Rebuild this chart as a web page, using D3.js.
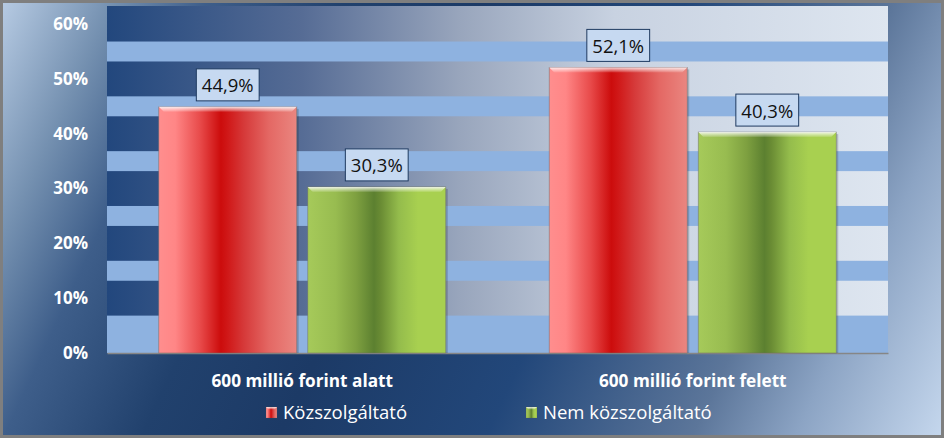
<!DOCTYPE html>
<html>
<head>
<meta charset="utf-8">
<script src="https://cdn.jsdelivr.net/npm/d3@7"></script>
<style>
  body { margin: 0; background: #fff; }
  svg { display: block; }
</style>
</head>
<body>
<script>
// chart data
var categories = ["600 millió forint alatt", "600 millió forint felett"];
var series = ["Közszolgáltató", "Nem közszolgáltató"];
var kozszolgaltato = [44.9, 52.1];
var nemKozszolgaltato = [30.3, 40.3];
var yTicks = [0, 10, 20, 30, 40, 50, 60];
var stripeValues = [5, 15, 25, 35, 45, 55];

var W = 944, H = 438;
var plot = {left: 107, right: 888, top: 6, bottom: 353};

var svg = d3.select("body").append("svg")
    .attr("width", W)
    .attr("height", H);

var defs = svg.append("defs");

// outer background gradient (light - dark - light along the diagonal)
var bg = defs.append("linearGradient")
    .attr("id", "bgGrad")
    .attr("gradientUnits", "userSpaceOnUse")
    .attr("x1", 0).attr("y1", 0).attr("x2", W).attr("y2", H);
[[0, "#b8cce4"], [0.1, "#7490b0"], [0.18, "#3e5e8a"], [0.3, "#21416d"],
 [0.42, "#1c3a66"], [0.6, "#22477a"], [0.78, "#5c769a"], [0.87, "#8ca4c4"], [1, "#c6d8ee"]]
  .forEach(function(s) {
    bg.append("stop").attr("offset", s[0]).attr("stop-color", s[1]);
  });

// plot area gradient
var pg = defs.append("linearGradient")
    .attr("id", "plotGrad")
    .attr("x1", 0).attr("y1", 0).attr("x2", 1).attr("y2", 0);
[[0, "#22477d"], [0.25, "#566c95"], [0.45, "#98a5bc"], [0.65, "#c8d2e1"], [1, "#dee6f0"]]
  .forEach(function(s) {
    pg.append("stop").attr("offset", s[0]).attr("stop-color", s[1]);
  });

// bar gradients
function barGradient(id, stops) {
  var g = defs.append("linearGradient")
      .attr("id", id)
      .attr("x1", 0).attr("y1", 0).attr("x2", 1).attr("y2", 0);
  stops.forEach(function(s) {
    g.append("stop").attr("offset", s[0]).attr("stop-color", s[1]);
  });
}
barGradient("redGrad", [[0, "#ff8e8e"], [0.12, "#ff8686"], [0.3, "#e84a4a"], [0.45, "#cc0c0c"],
  [0.5, "#d01818"], [0.62, "#d63a3a"], [0.8, "#e46864"], [1, "#ea8680"]]);
barGradient("greenGrad", [[0, "#a6ca5a"], [0.2, "#98bc50"], [0.35, "#7ea040"], [0.48, "#5c8030"],
  [0.53, "#6a8c34"], [0.66, "#94bc4c"], [0.8, "#a8d050"], [1, "#a8d050"]]);

var bevel = defs.append("linearGradient")
    .attr("id", "bevelGrad")
    .attr("x1", 0).attr("y1", 0).attr("x2", 0).attr("y2", 1);
bevel.append("stop").attr("offset", 0).attr("stop-color", "#fff").attr("stop-opacity", 0.85);
bevel.append("stop").attr("offset", 1).attr("stop-color", "#fff").attr("stop-opacity", 0.1);

var fills = {"Közszolgáltató": "url(#redGrad)", "Nem közszolgáltató": "url(#greenGrad)"};

// background + frame
svg.append("rect")
    .attr("x", 1.5).attr("y", 1.5)
    .attr("width", W - 3).attr("height", H - 3)
    .attr("fill", "url(#bgGrad)")
    .attr("stroke", "#7f7f7f")
    .attr("stroke-width", 3);

// scales
var yScale = d3.scaleLinear()
    .domain([0, 63.3])
    .range([plot.bottom, plot.top]);

var xScale = d3.scaleBand()
    .domain(categories)
    .range([plot.left, plot.right])
    .paddingInner(0.265)
    .paddingOuter(0.1325);

var xSub = d3.scaleBand()
    .domain(series)
    .range([0, xScale.bandwidth()])
    .paddingInner(0.074);

// plot area
svg.append("rect")
    .attr("x", plot.left).attr("y", plot.top)
    .attr("width", plot.right - plot.left)
    .attr("height", plot.bottom - plot.top)
    .attr("fill", "url(#plotGrad)");

// light stripes
svg.append("g").selectAll("rect")
    .data(stripeValues)
    .enter().append("rect")
    .attr("x", plot.left)
    .attr("width", plot.right - plot.left)
    .attr("y", function(d) { return yScale(d + 1.82); })
    .attr("height", function(d) {
      var lo = d === stripeValues[0] ? 0 : d - 1.82;
      return yScale(lo) - yScale(d + 1.82);
    })
    .attr("fill", "#8eb2e0");

// axes
var yAxis = d3.axisLeft(yScale)
    .tickValues(yTicks)
    .tickSize(0)
    .tickPadding(19)
    .tickFormat(function(d) { return d + "%"; });

var gy = svg.append("g")
    .attr("transform", "translate(" + plot.left + ",0)")
    .call(yAxis);
gy.select(".domain").remove();
gy.selectAll("text")
    .style("font-family", "'Open Sans', sans-serif")
    .style("font-weight", "bold")
    .style("font-size", "17px")
    .attr("fill", "#ffffff");

var xAxis = d3.axisBottom(xScale)
    .tickSize(0)
    .tickPadding(22);

var gx = svg.append("g")
    .attr("transform", "translate(0," + plot.bottom + ")")
    .call(xAxis);
gx.select(".domain")
    .attr("stroke", "#868686")
    .attr("stroke-width", 1.5);
gx.selectAll("text")
    .style("font-family", "'Open Sans', sans-serif")
    .style("font-weight", "bold")
    .style("font-size", "17.2px")
    .attr("fill", "#ffffff");

// bars
var rows = categories.map(function(c, i) {
  return [
    {cat: c, key: series[0], value: kozszolgaltato[i]},
    {cat: c, key: series[1], value: nemKozszolgaltato[i]}
  ];
});

var groups = svg.append("g").selectAll("g")
    .data(rows)
    .enter().append("g")
    .attr("transform", function(d) { return "translate(" + xScale(d[0].cat) + ",0)"; });

var bars = groups.selectAll("g")
    .data(function(d) { return d; })
    .enter().append("g");

bars.append("rect")
    .attr("x", function(d) { return xSub(d.key) + 2; })
    .attr("y", function(d) { return yScale(d.value) + 2; })
    .attr("width", xSub.bandwidth())
    .attr("height", function(d) { return plot.bottom - yScale(d.value) - 2; })
    .attr("fill", "#000")
    .attr("opacity", 0.18);

bars.append("rect")
    .attr("x", function(d) { return xSub(d.key); })
    .attr("y", function(d) { return yScale(d.value); })
    .attr("width", xSub.bandwidth())
    .attr("height", function(d) { return plot.bottom - yScale(d.value); })
    .attr("fill", function(d) { return fills[d.key]; })
    .attr("stroke", "#6a6a6a")
    .attr("stroke-opacity", 0.6)
    .attr("stroke-width", 0.8);

// bevelled top edge
bars.append("path")
    .attr("d", function(d) {
      var x0 = xSub(d.key), x1 = x0 + xSub.bandwidth(), y0 = yScale(d.value);
      return "M" + x0 + "," + y0 + "L" + x1 + "," + y0 +
             "L" + (x1 - 5) + "," + (y0 + 5) + "L" + (x0 + 5) + "," + (y0 + 5) + "Z";
    })
    .attr("fill", "url(#bevelGrad)");

// value labels
var labels = bars.append("g")
    .attr("transform", function(d) {
      return "translate(" + (xSub(d.key) + xSub.bandwidth() / 2) + "," + (yScale(d.value) - 6) + ")";
    });

var labelRects = labels.append("rect")
    .attr("fill", "#c6d9f1")
    .attr("stroke", "#1f3a60")
    .attr("stroke-width", 1);

var labelTexts = labels.append("text")
    .attr("text-anchor", "middle")
    .attr("y", -8.5)
    .style("font-family", "'Open Sans', sans-serif")
    .style("font-size", "18.5px")
    .attr("fill", "#111111")
    .text(function(d) { return d3.format(".1f")(d.value).replace(".", ",") + "%"; });

labelTexts.each(function() {
  var w = this.getComputedTextLength() + 11;
  d3.select(this.parentNode).select("rect")
      .attr("x", -w / 2)
      .attr("y", -32)
      .attr("width", w)
      .attr("height", 32);
});

// legend
var legendX = d3.scaleBand()
    .domain(series)
    .range([266, 786]);

var legend = svg.append("g").selectAll("g")
    .data(series)
    .enter().append("g")
    .attr("transform", function(d) { return "translate(" + legendX(d) + ",407)"; });

legend.append("rect")
    .attr("width", 11).attr("height", 11)
    .attr("fill", function(d) { return fills[d]; })
    .attr("stroke", "#555")
    .attr("stroke-opacity", 0.4)
    .attr("stroke-width", 0.5);

legend.append("path")
    .attr("d", "M0,0L11,0L8.5,2.5L2.5,2.5Z")
    .attr("fill", "url(#bevelGrad)");

legend.append("text")
    .attr("x", 17)
    .attr("y", 11.5)
    .style("font-family", "'Open Sans', sans-serif")
    .style("font-size", "18.5px")
    .attr("fill", "#ffffff")
    .text(function(d) { return d; });
</script>
</body>
</html>
